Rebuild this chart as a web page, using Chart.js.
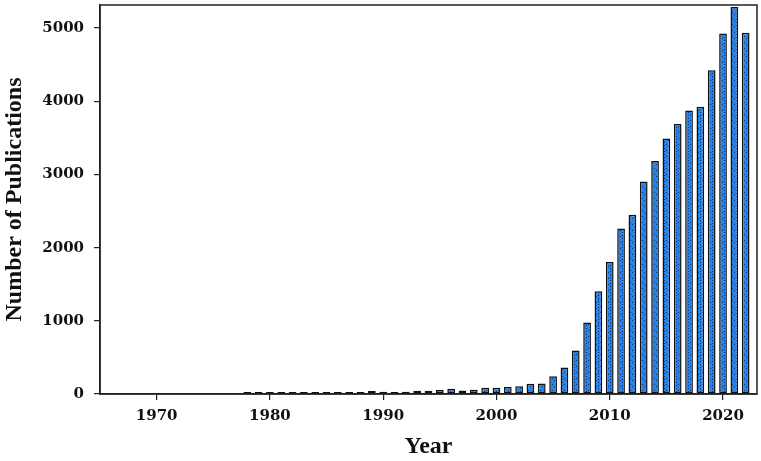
<!DOCTYPE html>
<html>
<head>
<meta charset="utf-8">
<script src="https://cdn.jsdelivr.net/npm/chart.js@4/dist/chart.umd.min.js"></script>
<style>
  html, body { margin: 0; padding: 0; background: #fff; }
  #wrap { width: 761px; height: 461px; }
</style>
</head>
<body>
<div id="wrap"><canvas id="chart" width="761" height="461"></canvas></div>
<script>
// Publicaciones por año
const years = [
  1978, 1979, 1980, 1981, 1982, 1983, 1984, 1985, 1986, 1987,
  1988, 1989, 1990, 1991, 1992, 1993, 1994, 1995, 1996, 1997,
  1998, 1999, 2000, 2001, 2002, 2003, 2004, 2005, 2006, 2007,
  2008, 2009, 2010, 2011, 2012, 2013, 2014, 2015, 2016, 2017,
  2018, 2019, 2020, 2021, 2022
];
const publications = [
  8, 10, 10, 12, 12, 14, 15, 16, 25, 22,
  28, 40, 30, 28, 30, 45, 45, 55, 72, 48,
  58, 85, 85, 95, 105, 140, 145, 242, 362, 593,
  978, 1403, 1805, 2262, 2450, 2903, 3185, 3490, 3690, 3872,
  3925, 4424, 4925, 5287, 4935
];
const yearTicks = [1970, 1980, 1990, 2000, 2010, 2020];
const countTicks = [0, 1000, 2000, 3000, 4000, 5000];

const axisColor = '#222';
const tickFont = { family: "'DejaVu Serif', serif", size: 15, weight: 'bold' };
const titleFont = { family: "'Liberation Serif', serif", size: 24, weight: 'bold' };

// relleno azul con trama diagonal punteada
function hatchPattern() {
  const c = document.createElement('canvas');
  c.width = 6; c.height = 6;
  const g = c.getContext('2d');
  g.fillStyle = '#1c86fa';
  g.fillRect(0, 0, 6, 6);
  g.fillStyle = 'rgba(5,15,45,0.75)';
  for (let i = 0; i < 6; i += 2) {
    g.fillRect(i, i, 1, 1);
  }
  g.fillRect(4, 1, 1, 1);
  return g.createPattern(c, 'repeat');
}

// marco completo alrededor del área del gráfico
const frame = {
  id: 'frame',
  afterDraw(chart) {
    const { ctx, chartArea: a } = chart;
    ctx.save();
    ctx.strokeStyle = axisColor;
    ctx.lineWidth = 1.5;
    ctx.strokeRect(a.left, a.top, a.right - a.left, a.bottom - a.top);
    ctx.restore();
  }
};

const ctx = document.getElementById('chart').getContext('2d');
new Chart(ctx, {
  type: 'bar',
  data: {
    datasets: [{
      data: years.map((y, i) => ({ x: y, y: publications[i] })),
      backgroundColor: hatchPattern(),
      borderColor: '#111',
      borderWidth: 1.5,
      borderSkipped: false,
      minBarLength: 2,
      barPercentage: 0.68,
      categoryPercentage: 1,
    }],
  },
  options: {
    responsive: false,
    animation: false,
    layout: { padding: { top: 5, right: 4, left: 0, bottom: 0 } },
    plugins: { legend: { display: false }, tooltip: { enabled: false } },
    scales: {
      x: {
        type: 'linear',
        offset: false,
        min: 1965,
        max: 2023,
        afterFit: (s) => { s.height = 67; s.paddingLeft = 0; s.paddingRight = 0; },
        afterBuildTicks: (s) => { s.ticks = yearTicks.map(v => ({ value: v })); },
        ticks: {
          color: '#111',
          font: tickFont,
          padding: 7,
          maxRotation: 0,
          callback: (v) => String(v),
        },
        grid: { offset: false, drawOnChartArea: false, drawTicks: true, tickLength: 6, color: axisColor, lineWidth: 1.2 },
        border: { color: axisColor, width: 1.5 },
        title: { display: true, text: 'Year', color: '#111', font: titleFont, padding: { top: 0, bottom: 0 } },
      },
      y: {
        min: 0,
        max: 5315,
        afterFit: (s) => { s.width = 100; s.paddingTop = 0; s.paddingBottom = 0; },
        afterBuildTicks: (s) => { s.ticks = countTicks.map(v => ({ value: v })); },
        ticks: {
          color: '#111',
          font: tickFont,
          padding: 10,
          callback: (v) => String(v),
        },
        grid: { drawOnChartArea: false, drawTicks: true, tickLength: 6, color: axisColor, lineWidth: 1.2 },
        border: { color: axisColor, width: 1.5 },
        title: { display: true, text: 'Number of Publications', color: '#111', font: titleFont, padding: { top: 0, bottom: 0 } },
      },
    },
  },
  plugins: [frame],
});
</script>
</body>
</html>
